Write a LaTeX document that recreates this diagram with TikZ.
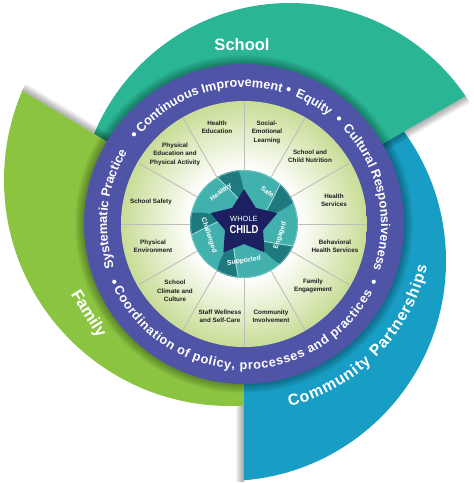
\documentclass[tikz,border=0pt]{standalone}
\usepackage{fontspec}
\setmainfont{Liberation Sans}
\usetikzlibrary{decorations.text}
\definecolor{schoolc}{RGB}{42,182,149}
\definecolor{familyc}{RGB}{138,196,64}
\definecolor{commc}{RGB}{24,158,196}
\definecolor{ringc}{RGB}{80,84,166}
\definecolor{discedge}{RGB}{200,221,150}
\definecolor{hubc}{RGB}{66,176,173}
\definecolor{hubdark}{RGB}{30,122,127}
\definecolor{hublight}{RGB}{150,215,210}
\definecolor{starc}{RGB}{28,32,96}
\definecolor{spokec}{RGB}{190,190,185}
\definecolor{labelc}{RGB}{30,30,30}
\pgfdeclareradialshading{discshade}{\pgfpoint{0bp}{0bp}}{color(0bp)=(white); color(11bp)=(white); color(25bp)=(discedge); color(50bp)=(discedge)}
\newcommand\ringfont{\fontsize{12.7}{13}\selectfont\bfseries\color{white}}
\newcommand\ringfontb{\fontsize{12.7}{13}\selectfont\bfseries\color{white}}
\newcommand\bandfont{\fontsize{16.5}{17}\selectfont\bfseries\color{white}}
\newcommand\bandfontb{\fontsize{15.8}{17}\selectfont\bfseries\color{white}}
\begin{document}
\begin{tikzpicture}[x=1pt,y=1pt,
  lbl/.style={font=\fontsize{6.3}{8.4}\selectfont\bfseries, text=labelc, align=center, inner sep=0pt},
  hubword/.style={font=\fontsize{6.8}{7}\selectfont\bfseries, text=white, inner sep=0pt},
  bandlbl/.style={font=\bandfont, inner sep=0pt},
  shadowstrip/.style={black, opacity=0.045},
  ringtext/.style={decorate, decoration={text along path, text align=center, text={|\ringfont|#1}}},
  fittext/.style={decorate, decoration={text along path, text align=fit to path, text={#1}}},
]
\useasboundingbox (-244,-259) rectangle (230,224);
\fill[white] (-244,-259) rectangle (230,224);

% Community band
\begin{scope}
\clip (0,0) -- (-90:400) arc[start angle=-90,end angle=40,radius=400] -- cycle;
\fill[commc] (-18,-37) circle (220);
\end{scope}
\begin{scope}[rotate=-90]
\foreach \k in {1,...,8} \fill[shadowstrip] (150,0) rectangle (258,-\k);
\end{scope}

% School band
\begin{scope}[rotate=30]
\foreach \k in {1,...,8} \fill[shadowstrip] (150,0) rectangle (256,-\k);
\end{scope}
\begin{scope}
\clip (0,0) -- (30:400) arc[start angle=30,end angle=165,radius=400] -- cycle;
\fill[schoolc] (46,9) circle (212);
\end{scope}

% Family band
\begin{scope}[rotate=149]
\foreach \k in {1,...,8} \fill[shadowstrip] (150,0) rectangle (259,-\k);
\end{scope}
\begin{scope}
\clip (0,0) -- (149:400) arc[start angle=149,end angle=270,radius=400] -- cycle;
\fill[familyc] (-14,44) circle (226);
\end{scope}

% ring drop shadow
\foreach \k in {1,...,9} \fill[black,opacity=0.035] (0,0) circle ({160+\k});

% purple ring
\fill[ringc] (0,0) circle (160);
% inner disc
\shade[shading=discshade] (0,0) circle (123);
\foreach \a in {0,30,...,330} \draw[spokec, line width=0.9pt] (\a:54) -- (\a:123);

% ring texts
\path[ringtext={Systematic Practice}] (213.5:137) arc[start angle=213.5,end angle=133.5,radius=137];
\path[ringtext={Continuous Improvement}] (151.3:137) arc[start angle=151.3,end angle=61.3,radius=137];
\path[ringtext={Equity}] (100:137) arc[start angle=100,end angle=20,radius=137];
\path[ringtext={Cultural Responsiveness}] (57.3:137) arc[start angle=57.3,end angle=-32.7,radius=137];
\path[fittext={|\ringfontb|Coordination of policy, processes and practices}] (206.5:145.5) arc[start angle=206.5,end angle=332,radius=145.5];
\foreach \a in {140.8,71.7,48,-24,204} \fill[white] (\a:142) circle (2.1);

% band labels
\node[bandlbl] (school) at (-2,179) {School};
\node[bandlbl, rotate=-58] (family) at (-156,-90) {Family};
\path[fittext={|\bandfontb|Community Partnerships}] (-76:188) arc[start angle=-76,end angle=-13,radius=188];

% spoke labels
\node[lbl] (he) at (-27,97) {Health\\Education};
\node[lbl] (sel) at (23,92) {Social-\\Emotional\\Learning};
\node[lbl] (scn) at (66,68) {School and\\Child Nutrition};
\node[lbl] (hs) at (90,24) {Health\\Services};
\node[lbl] (bhs) at (91,-22) {Behavioral\\Health Services};
\node[lbl] (fe) at (69,-62) {Family\\Engagement};
\node[lbl] (ci) at (27,-92) {Community\\Involvement};
\node[lbl] (sw) at (-24,-92) {Staff Wellness\\and Self-Care};
\node[lbl] (scc) at (-69,-67) {School\\Climate and\\Culture};
\node[lbl] (pe) at (-91,-22) {Physical\\Environment};
\node[lbl] (ss) at (-93,22) {School Safety};
\node[lbl] (pepa) at (-69,70) {Physical\\Education and\\Physical Activity};

% hub
\fill[hubc] (0,0) circle (54);
\foreach \p in {90,18,-54,-126,-198} {
  \fill[hubdark] ({\p+30}:54) arc[start angle={\p+30}, end angle={\p+6}, radius=54]
     .. controls ({\p+2}:44) and ({\p-2}:30) .. ({\p+4}:20)
     .. controls ({\p+14}:28) and ({\p+24}:40) .. cycle;
  \draw[hublight, line width=1pt] ({\p+30}:54) .. controls ({\p+24}:40) and ({\p+14}:28) .. ({\p+4}:20);
}
\draw[hublight, opacity=0.6, line width=0.8pt] (0,0) circle (53.4);
\fill[starc] (90:35) -- (126:20) -- (162:35) -- (198:20) -- (234:35) -- (270:20) -- (306:35) -- (342:20) -- (18:35) -- (54:20) -- cycle;
\node[font=\fontsize{7.5}{8}\selectfont, text=white, inner sep=0pt] (whole) at (0,5) {WHOLE};
\node[font=\fontsize{11.5}{12}\selectfont\bfseries, text=white, inner sep=0pt, xscale=0.82] (child) at (0,-5.5) {CHILD};
\node[hubword, rotate=36] (healthy) at (126:39) {Healthy};
\node[hubword, rotate=-36] (safe) at (54:40) {Safe};
\node[hubword, rotate=72] (engaged) at (-18:38) {Engaged};
\node[hubword, rotate=8] (supported) at (-90:37) {Supported};
\node[hubword, rotate=-72] (challenged) at (198:37) {Challenged};
\end{tikzpicture}
\end{document}
